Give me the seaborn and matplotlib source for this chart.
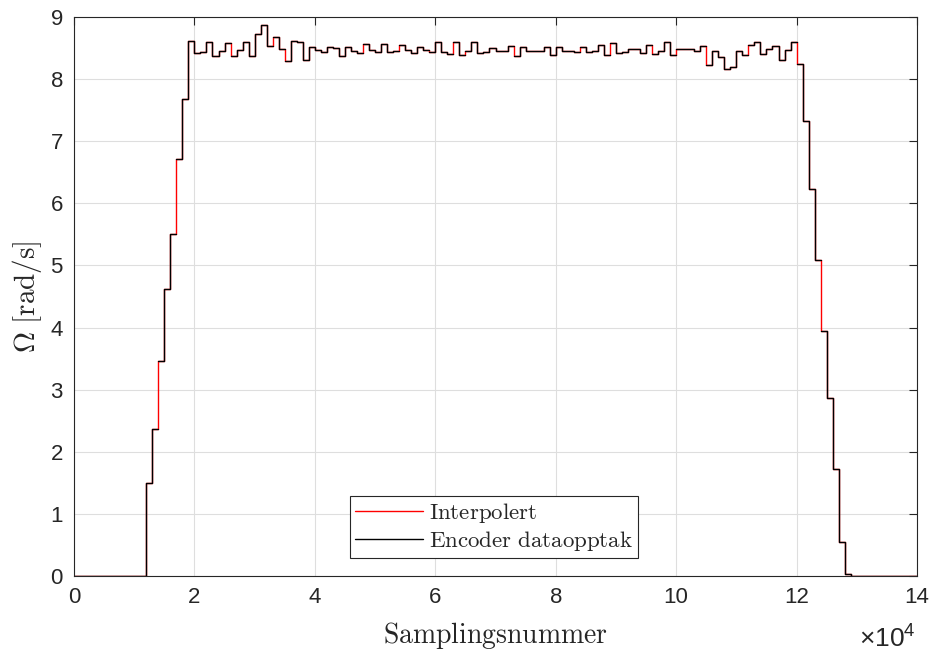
import numpy as np
import pandas as pd
import matplotlib
matplotlib.use("Agg")
import matplotlib.pyplot as plt
import seaborn as sns
from matplotlib.font_manager import FontProperties
from matplotlib.lines import Line2D
from matplotlib.ticker import FuncFormatter

# ---------------- data (one level per 1000-sample block) ----------------
step_size = 1000
rise_levels = [1.49, 2.36, 3.46, 4.62, 5.51, 6.71, 7.68]
plateau_levels = [
    8.61, 8.42, 8.43, 8.59, 8.38, 8.45, 8.58, 8.38, 8.47, 8.59,
    8.38, 8.72, 8.87, 8.54, 8.68, 8.49, 8.29, 8.62, 8.60, 8.31,
    8.51, 8.47, 8.44, 8.51, 8.50, 8.38, 8.51, 8.45, 8.42, 8.56,
    8.47, 8.44, 8.57, 8.43, 8.45, 8.55, 8.47, 8.42, 8.52, 8.47, 8.44,
    8.59, 8.44, 8.40, 8.59, 8.39, 8.45, 8.59, 8.42, 8.44, 8.50,
    8.45, 8.45, 8.53, 8.38, 8.51, 8.45, 8.45, 8.45, 8.51, 8.39,
    8.52, 8.45, 8.45, 8.44, 8.51, 8.44, 8.46, 8.55, 8.39, 8.58,
    8.42, 8.44, 8.49, 8.48, 8.42, 8.55, 8.40, 8.45, 8.59, 8.39, 8.49,
    8.49, 8.48, 8.45, 8.53, 8.23, 8.45, 8.36, 8.17, 8.19, 8.45,
    8.39, 8.55, 8.59, 8.40, 8.49, 8.53, 8.31, 8.47, 8.59,
]
fall_levels = [8.25, 7.33, 6.23, 5.08, 3.95, 2.86, 1.73, 0.55, 0.04]
omega_levels = [0.0] * 12 + rise_levels + plateau_levels + fall_levels + [0.0] * 11

# block edges where the encoder trace has no vertical segment (interpolated shows)
encoder_gap_edges = [14000, 17000, 26000, 33000, 35000, 48000, 54000, 59000,
                     63000, 65000, 73000, 84000, 89000, 96000, 100000,
                     105000, 112000, 120000, 124000]

x_ticks = list(range(0, 140001, 20000))
y_ticks = list(range(0, 10))
legend_labels = [r"$\mathrm{Interpolert}$", r"$\mathrm{Encoder\ dataopptak}$"]
x_label = r"$\mathrm{Samplingsnummer}$"
y_label = r"$\Omega\ \mathrm{[rad/s]}$"

# ---------------- build step traces ----------------
levels = np.array(omega_levels)
n = len(levels)
edges = np.arange(n + 1) * step_size
x_pts = np.repeat(edges, 2)[1:-1]
y_pts = np.repeat(levels, 2)
seg = np.cumsum(np.isin(edges[:-1], encoder_gap_edges))
seg_pts = np.repeat(seg, 2)

df_interp = pd.DataFrame({"x": x_pts, "y": y_pts})
df_enc = pd.DataFrame({"x": x_pts, "y": y_pts, "seg": seg_pts})

# ---------------- style ----------------
sns.set_style("white")
plt.rcParams["font.family"] = ["Liberation Sans", "DejaVu Sans"]
plt.rcParams["mathtext.fontset"] = "custom"
plt.rcParams["mathtext.rm"] = "Liberation Sans"
plt.rcParams["mathtext.it"] = "Liberation Sans:italic"

fig = plt.figure(figsize=(9.33, 6.58), dpi=100)
ax = fig.add_axes([74 / 933, 82 / 658, 843 / 933, 559 / 658])

sns.lineplot(data=df_interp, x="x", y="y", color="#ff0000", lw=1.0,
             estimator=None, sort=False, ax=ax, legend=False)
sns.lineplot(data=df_enc, x="x", y="y", units="seg", color="#000000", lw=1.0,
             estimator=None, sort=False, ax=ax, legend=False)

ax.set_xlim(0, 140000)
ax.set_ylim(0, 9)
ax.set_xticks(x_ticks)
ax.set_yticks(y_ticks)
ax.xaxis.set_major_formatter(FuncFormatter(lambda v, p: f"{int(round(v / 1e4))}"))

ax.grid(True, color="#dedede", lw=0.8)
ax.set_axisbelow(True)
for s in ax.spines.values():
    s.set_visible(True)
    s.set_color("#262626")
    s.set_linewidth(0.8)
ax.tick_params(direction="in", length=5.5, width=0.8, color="#262626",
               top=True, right=True, labelsize=16, labelcolor="#262626", pad=8)

ax.set_xlabel(x_label, fontproperties=FontProperties(size=20, math_fontfamily="cm"),
              color="#262626")
ax.set_ylabel(y_label, fontproperties=FontProperties(size=21, math_fontfamily="cm"),
              color="#262626")
ax.xaxis.set_label_coords(0.5, -0.078)
ax.yaxis.set_label_coords(-0.036, 0.5)

ax.text(0.999, -0.088, r"$\times\mathdefault{10^{4}}$", transform=ax.transAxes,
        ha="right", va="top", fontsize=19, color="#262626")

handles = [Line2D([], [], color="#ff0000", lw=1.0),
           Line2D([], [], color="#000000", lw=1.0)]
leg = ax.legend(handles, legend_labels, loc="lower left",
                bbox_to_anchor=(276 / 843, 18 / 559), borderaxespad=0,
                prop=FontProperties(size=16.5, math_fontfamily="cm"),
                fancybox=False, framealpha=1, edgecolor="#262626",
                handlelength=3.0, handletextpad=0.25, borderpad=0.2,
                labelspacing=0.2)
leg.get_frame().set_linewidth(0.8)

fig.savefig("out.png", dpi=100, facecolor="white")
